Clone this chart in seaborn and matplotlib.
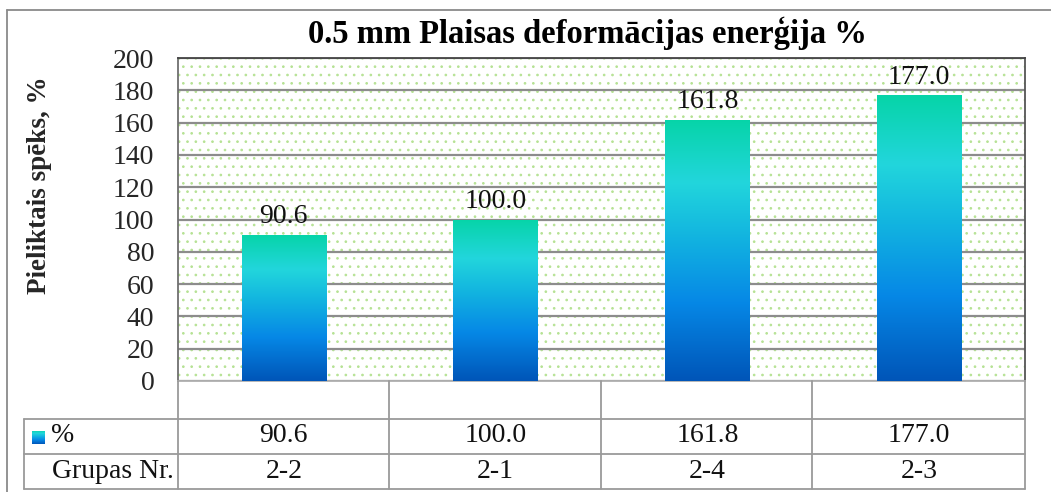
import numpy as np
import pandas as pd
import matplotlib
matplotlib.use("Agg")
import matplotlib.pyplot as plt
import seaborn as sns
from matplotlib.colors import LinearSegmentedColormap
from matplotlib.patches import Rectangle
from matplotlib.lines import Line2D
from matplotlib.transforms import blended_transform_factory

# ---- data ----
groups = ["2-2", "2-1", "2-4", "2-3"]
values = [90.6, 100.0, 161.8, 177.0]
yticks = [0, 20, 40, 60, 80, 100, 120, 140, 160, 180, 200]
title = "0.5 mm Plaisas deformācijas enerģija %"
ylabel = "Pieliktais spēks, %"
series_name = "%"
row_label = "Grupas Nr."

sns.set_theme(style="white")
plt.rcParams["font.family"] = ["Liberation Serif", "DejaVu Serif"]
plt.rcParams["hatch.linewidth"] = 0.7

W, H = 1051, 492
fig = plt.figure(figsize=(W / 100, H / 100), dpi=100)

def fx(px):
    return px / W

def fy(py):
    return 1 - py / H

L, R, T, B = 178, 1025, 58, 381
ax = fig.add_axes([fx(L), fy(B), fx(R) - fx(L), fy(T) - fy(B)])

df = pd.DataFrame({"group": groups, "value": values})
sns.barplot(data=df, x="group", y="value", ax=ax, width=0.4,
            color="#0a90e0", edgecolor="none", zorder=3)

ax.set_xlim(-0.5, 3.5)
ax.set_ylim(0, 200)

# dotted background
bg = Rectangle((0, 0), 1, 1, transform=ax.transAxes, facecolor="none",
               edgecolor="#b6e294", hatch="..", linewidth=0, zorder=0)
ax.add_patch(bg)

# gradient fill for bars
cmap = LinearSegmentedColormap.from_list(
    "g", [(0.0, "#0055b8"), (0.3, "#0688e6"), (0.55, "#12b4e0"),
          (0.76, "#22d6dc"), (1.0, "#06d4a8")])
grad = np.linspace(0, 1, 256).reshape(-1, 1)
for p in list(ax.patches):
    if p is bg:
        continue
    x0, y0 = p.get_x(), p.get_y()
    w, h = p.get_width(), p.get_height()
    im = ax.imshow(grad, cmap=cmap, origin="lower", aspect="auto",
                   extent=[x0, x0 + w, y0, y0 + h], zorder=4,
                   interpolation="bilinear")
    im.set_clip_path(p)
    p.set_facecolor("none")
ax.set_xlim(-0.5, 3.5)
ax.set_ylim(0, 200)

# value labels
for i, v in enumerate(values):
    ax.annotate(f"{v:.1f}", (i, v), xytext=(0, 4), textcoords="offset points",
                ha="center", va="bottom", fontsize=20, color="#111111", zorder=5)

ax.set_yticks(yticks)
ax.set_yticklabels([str(t) for t in yticks], fontsize=20)
ax.tick_params(axis="y", length=0, pad=17)
ax.set_xticks([])
ax.set_xlabel("")
ax.set_ylabel(ylabel, fontsize=19.5, fontweight="bold", labelpad=0)
ax.yaxis.set_label_coords(-0.149, 0.605)
ax.grid(axis="y", color="#8c8c8c", linewidth=1.6, zorder=1)
ax.set_axisbelow(True)
for s in ["left", "right", "top", "bottom"]:
    ax.spines[s].set_color("#707070")
    ax.spines[s].set_linewidth(1.3)
ax.spines["top"].set_color("#444444")
ax.spines["right"].set_color("#555555")
ax.spines["bottom"].set_color("#b0b0b0")

# title
fig.text(fx(587), fy(33), title, ha="center", va="center",
         fontsize=23.5, fontweight="bold", color="black")

# outer frame
lc = "#8a8a8a"
fig.add_artist(Line2D([fx(7), fx(7)], [fy(10), fy(492)], color=lc, lw=1.3))
fig.add_artist(Line2D([fx(7), 1.0], [fy(10), fy(10)], color=lc, lw=1.3))

# data table grid
tc = "#9a9a9a"
for px in [389, 601, 812, 1025]:
    fig.add_artist(Line2D([fx(px), fx(px)], [fy(381), fy(489)], color=tc, lw=1.3))
fig.add_artist(Line2D([fx(178), fx(178)], [fy(381), fy(489)], color=tc, lw=1.3))
fig.add_artist(Line2D([fx(24), fx(24)], [fy(419), fy(489)], color=tc, lw=1.3))
for py in [419, 454, 489]:
    fig.add_artist(Line2D([fx(24), fx(1025)], [fy(py), fy(py)], color=tc, lw=1.3))

trans = blended_transform_factory(ax.transData, fig.transFigure)
for i, (g, v) in enumerate(zip(groups, values)):
    ax.text(i, fy(436), f"{v:.1f}", transform=trans, ha="center", va="center",
            fontsize=20, color="#111111", clip_on=False)
    ax.text(i, fy(471), g, transform=trans, ha="center", va="center",
            fontsize=20, color="#111111", clip_on=False)

fig.text(fx(51), fy(436), series_name, ha="left", va="center", fontsize=20, color="#111111")
fig.text(fx(52), fy(471), row_label, ha="left", va="center", fontsize=20, color="#111111")

# legend key in table
kax = fig.add_axes([fx(32), fy(444), fx(45) - fx(32), fy(431) - fy(444)])
kax.imshow(grad, cmap=cmap, origin="lower", aspect="auto", interpolation="bilinear")
kax.set_axis_off()

fig.savefig("out.png", dpi=100)
